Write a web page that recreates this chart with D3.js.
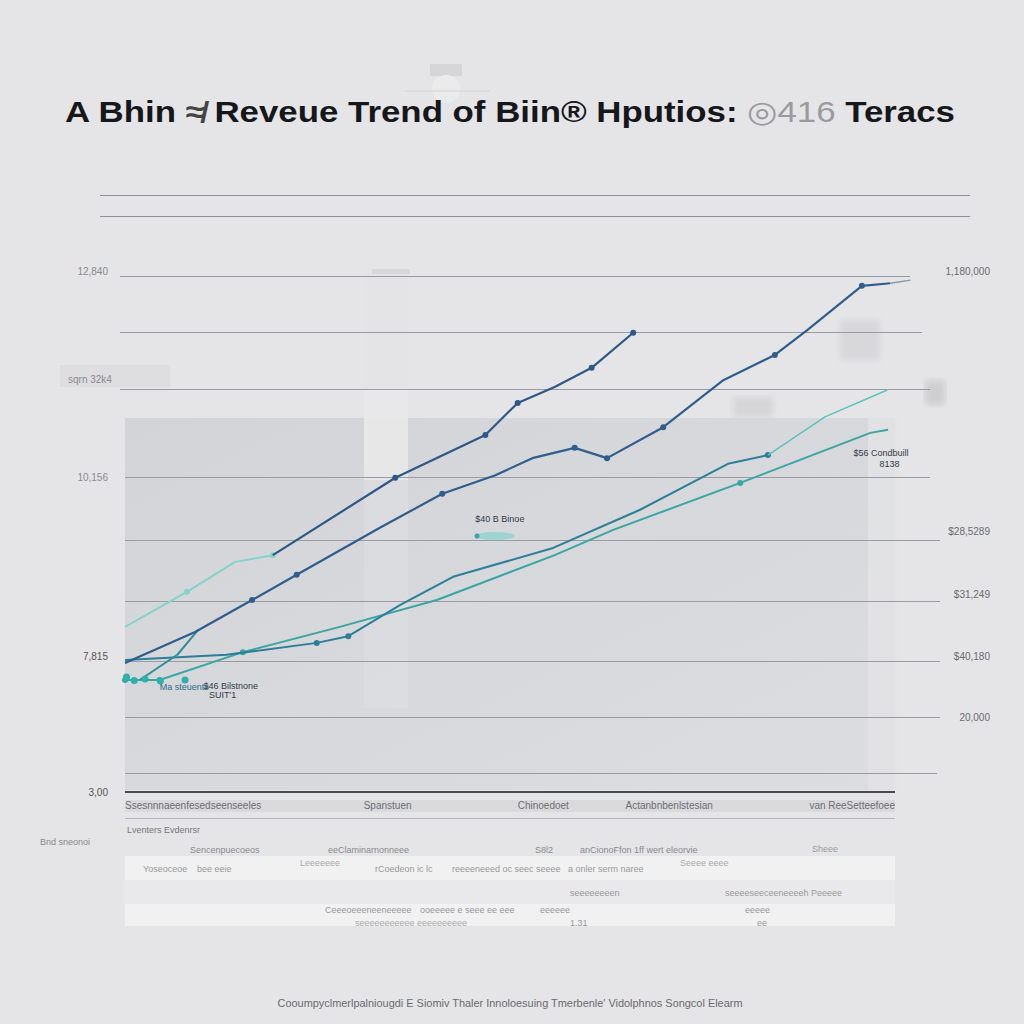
<!DOCTYPE html>
<html><head><meta charset="utf-8">
<script src="https://cdn.jsdelivr.net/npm/d3@7"></script>
<style>html,body{margin:0;padding:0;background:#e5e5e7;}svg{display:block;}</style>
</head><body>
<svg id="c" width="1024" height="1024"></svg>
<script>
// ---------- data ----------
const titleParts = ["A Bhin ", "≉ ", "Reveue Trend of Biin", "®", " Hputios: ", "◎416 ", "Teracs"];
// series values: period (t) and revenue index (v)
const s1LightT = [0, 8.05, 14.3, 19.2];
const s1LightV = [32.0, 38.8, 44.6, 45.9];
const s1T = [19.2, 35.1, 46.8, 51.0, 55.8, 60.6, 66.0];
const s1V = [45.9, 60.9, 69.2, 75.4, 78.5, 82.2, 89.0];
const s2T = [0, 9.1, 16.5, 22.3, 33.1, 41.2, 48.1, 52.9, 58.4, 62.6, 69.9, 77.7, 84.4, 88.6, 95.7, 99.4];
const s2V = [25.0, 31.0, 37.2, 42.1, 51.2, 57.8, 61.4, 64.7, 66.7, 64.7, 70.7, 79.8, 84.7, 89.5, 98.1, 98.6];
const pT = [0, 13.2, 24.9, 29.0, 35.7, 42.6, 55.6, 66.9, 78.3, 83.5];
const pV = [25.6, 26.6, 28.9, 30.2, 36.2, 41.7, 47.3, 54.7, 63.6, 65.3];
const pLightT = [83.5, 90.9, 99.0];
const pLightV = [65.3, 72.7, 77.9];
const qT = [0, 4.5, 15.3, 27.9, 40.5, 55.8, 63.4, 79.9, 96.8, 99.1];
const qV = [21.7, 21.7, 27.1, 32.0, 37.2, 45.9, 50.8, 59.9, 69.6, 70.2];
const s5T = [1.9, 6.8, 9.5];
const s5V = [21.7, 26.6, 31.4];
const s1Marks = [1, 2, 3, 5, 6];
const s1LightMarks = [1, 3];
const s2Marks = [2, 3, 5, 8, 9, 10, 12, 14];
const pMarks = [2, 3, 9];
const qMarks = [0, 1, 2, 7];
// gridlines (revenue index) and tick labels
const gridV = [115.7, 111.6, 100, 89.1, 78.1, 61.0, 48.8, 37.0, 25.4, 14.5, 3.7];
const leftTickV = [101, 80, 61, 26.4, 0];
const leftTickLabels = ["12,840", "sqrn 32k4", "10,156", "7,815", "3,00"];
const rightTickV = [101, 50.5, 38.4, 26.4, 14.5];
const rightTickLabels = ["1,180,000", "$28,5289", "$31,249", "$40,180", "20,000"];
const categories = ["Ssesnnnaeenfesedseenseeles", "Spanstuen", "Chinoedoet", "Actanbnbenlstesian", "van ReeSetteefoee"];
const categoryT = [0, 31, 51, 65, 100];
const notes = [
  {t: 10.2, v: 20.0, text: "$46 Bilstnone"},
  {t: 10.9, v: 18.2, text: "SUIT'1"},
  {t: 4.5, v: 19.8, text: "Ma steuents"},
  {t: 45.5, v: 52.3, text: "$40 B Binoe"},
  {t: 94.6, v: 65.1, text: "$56  Condbuill"},
  {t: 98.0, v: 63.0, text: "8138"}
];
const footer = "Cooumpyclmerlpalniougdi  E   Siomiv Thaler Innoloesuing   Tmerbenle' Vidolphnos Songcol Elearm";

// ---------- chart ----------
const svg = d3.select("#c");
const x = d3.scaleLinear().domain([0, 100]).range([125, 895]);
const y = d3.scaleLinear().domain([0, 100]).range([792, 276]);
const font = "'Liberation Sans', Arial, sans-serif";

const defs = svg.append("defs");
const g1 = defs.append("linearGradient").attr("id", "plotg").attr("x1", 0).attr("y1", 0).attr("x2", 1).attr("y2", 1);
g1.append("stop").attr("offset", 0).attr("stop-color", "#d2d4d8");
g1.append("stop").attr("offset", 1).attr("stop-color", "#dcdde0");
defs.append("filter").attr("id", "blur").append("feGaussianBlur").attr("stdDeviation", 3);

// background
svg.append("rect").attr("width", 1024).attr("height", 1024).attr("fill", "#e5e5e7");
// faint decoration above title
svg.append("rect").attr("x", 430).attr("y", 64).attr("width", 32).attr("height", 12).attr("fill", "#d6d6d8");
svg.append("circle").attr("cx", 446).attr("cy", 89).attr("r", 14).attr("fill", "#ebebec");
svg.append("line").attr("x1", 405).attr("x2", 490).attr("y1", 91).attr("y2", 91).attr("stroke", "#d2d2d4");

// plot panel
svg.append("rect").attr("x", x(0)).attr("y", 418).attr("width", x(100) - x(0)).attr("height", 372).attr("fill", "url(#plotg)");
svg.append("rect").attr("x", 868).attr("y", 418).attr("width", 32).attr("height", 372).attr("fill", "#e3e3e5").attr("opacity", 0.8);
// faint column
svg.append("rect").attr("x", 364).attr("y", 272).attr("width", 44).attr("height", 436).attr("fill", "#e2e2e4").attr("opacity", 0.45);
svg.append("rect").attr("x", 364).attr("y", 390).attr("width", 44).attr("height", 90).attr("fill", "#e9e9ea").attr("opacity", 0.85);
svg.append("rect").attr("x", 372).attr("y", 269).attr("width", 38).attr("height", 5).attr("fill", "#d8d8da");
// right faint blobs
svg.append("rect").attr("x", 840).attr("y", 320).attr("width", 40).attr("height", 40).attr("fill", "#d8d8db").attr("filter", "url(#blur)");
svg.append("rect").attr("x", 733).attr("y", 397).attr("width", 40).attr("height", 20).attr("fill", "#d6d6d8").attr("filter", "url(#blur)");
svg.append("rect").attr("x", 925).attr("y", 380).attr("width", 20).attr("height", 25).attr("fill", "#cfcfd2").attr("filter", "url(#blur)");
svg.append("rect").attr("x", 60).attr("y", 365).attr("width", 110).attr("height", 22).attr("fill", "#dedee0");

// gridlines
const gridExt = {115.7: [100, 970], 111.6: [100, 970], 100: [120, 910], 89.1: [120, 922], 78.1: [120, 930], 61.0: [125, 930], 48.8: [125, 940], 37.0: [125, 940], 25.4: [125, 940], 14.5: [125, 940], 3.7: [125, 937]};
svg.append("g").selectAll("line").data(gridV).join("line")
  .attr("x1", d => gridExt[d][0]).attr("x2", d => gridExt[d][1])
  .attr("y1", d => Math.round(y(d)) + 0.5).attr("y2", d => Math.round(y(d)) + 0.5)
  .attr("stroke", (d, i) => i < 2 ? "#8f9096" : "#9b9ca1").attr("stroke-width", 1.2);

// axis baseline
svg.append("rect").attr("x", x(0)).attr("y", 800).attr("width", x(100) - x(0)).attr("height", 12).attr("fill", "#d5d6d9").attr("opacity", 0.7);
svg.append("line").attr("x1", x(0)).attr("x2", x(100)).attr("y1", y(0)).attr("y2", y(0)).attr("stroke", "#4a4b50").attr("stroke-width", 2);
svg.append("line").attr("x1", x(0)).attr("x2", x(100)).attr("y1", 818.5).attr("y2", 818.5).attr("stroke", "#b8b9bc").attr("stroke-width", 1.2);

// tick labels
svg.append("g").selectAll("text").data(leftTickLabels).join("text")
  .attr("x", (d, i) => i === 1 ? 68 : 108).attr("y", (d, i) => y(leftTickV[i]) + 4)
  .attr("text-anchor", (d, i) => i === 1 ? "start" : "end")
  .attr("font-family", font).attr("font-size", 10)
  .attr("fill", (d, i) => i >= 3 ? "#555" : "#8a8a90").text(d => d);
svg.append("g").selectAll("text").data(rightTickLabels).join("text")
  .attr("x", 990).attr("y", (d, i) => y(rightTickV[i]) + 4).attr("text-anchor", "end")
  .attr("font-family", font).attr("font-size", 10).attr("fill", "#6a6b70").text(d => d);

// lines
const line = d3.line().x(d => x(d[0])).y(d => y(d[1]));
const zip = (a, b) => a.map((t, i) => [t, b[i]]);
const series = [
  {t: s1LightT, v: s1LightV, c: "#86d3cb", w: 2, m: s1LightMarks},
  {t: qT, v: qV, c: "#3aa6a4", w: 2, m: qMarks},
  {t: pT, v: pV, c: "#2c7f98", w: 2, m: pMarks},
  {t: pLightT, v: pLightV, c: "#5cc3bd", w: 1.5, m: []},
  {t: s5T, v: s5V, c: "#2f8e9a", w: 2, m: []},
  {t: s2T, v: s2V, c: "#2f5e8c", w: 2.2, m: s2Marks},
  {t: s1T, v: s1V, c: "#2d5887", w: 2.2, m: s1Marks}
];
series.forEach(s => {
  const pts = zip(s.t, s.v);
  svg.append("path").datum(pts).attr("d", line).attr("fill", "none")
    .attr("stroke", s.c).attr("stroke-width", s.w).attr("stroke-linejoin", "round");
  svg.append("g").selectAll("circle").data(s.m.map(i => pts[i])).join("circle")
    .attr("cx", d => x(d[0])).attr("cy", d => y(d[1])).attr("r", 3).attr("fill", s.c);
});
// faint extension at top-right
svg.append("path").datum([[99.4, 98.6], [102, 99.2]]).attr("d", line).attr("stroke", "#8896a8").attr("stroke-width", 1.5).attr("fill", "none");
// teal blob near $40 B label
svg.append("ellipse").attr("cx", 495).attr("cy", 536).attr("rx", 20).attr("ry", 4).attr("fill", "#8fd3cd").attr("opacity", 0.8);
svg.append("circle").attr("cx", 477).attr("cy", 536).attr("r", 2.5).attr("fill", "#3aa6a4");
// marker cluster at bottom-left
svg.append("g").selectAll("circle").data([[0.2, 22.3], [1.2, 21.6], [2.6, 21.9], [4.6, 21.5], [7.8, 21.7]]).join("circle")
  .attr("cx", d => x(d[0])).attr("cy", d => y(d[1])).attr("r", 3.5).attr("fill", "#2fb0ab");

// notes
svg.append("g").selectAll("text").data(notes).join("text")
  .attr("x", d => x(d.t)).attr("y", d => y(d.v)).attr("font-family", font).attr("font-size", 9)
  .attr("fill", (d, i) => i === 2 ? "#2b6a88" : "#333a48").text(d => d.text);

// category labels
svg.append("g").selectAll("text").data(categories).join("text")
  .attr("x", (d, i) => x(categoryT[i])).attr("y", 809)
  .attr("text-anchor", (d, i) => i === 4 ? "end" : "start")
  .attr("font-family", font).attr("font-size", 10).attr("fill", "#6c6d72").text(d => d);

// title
const title = svg.append("text").attr("x", 510).attr("y", 122).attr("text-anchor", "middle")
  .attr("font-family", font).attr("font-weight", "bold").attr("font-size", 30).attr("fill", "#16171b")
  .attr("textLength", 890).attr("lengthAdjust", "spacingAndGlyphs");
title.selectAll("tspan").data(titleParts).join("tspan")
  .attr("fill", (d, i) => i === 5 ? "#9a9a9e" : (i === 1 ? "#444" : "#16171b"))
  .attr("font-weight", (d, i) => i === 5 ? "normal" : "bold").text(d => d);

// lower table area
svg.append("rect").attr("x", 125).attr("y", 856).attr("width", 770).attr("height", 70).attr("fill", "#f1f1f2");
svg.append("rect").attr("x", 125).attr("y", 880).attr("width", 770).attr("height", 24).attr("fill", "#e9e9eb");
const tableText = [
  [127, 833, "Lventers Evdenrsr", "#777"],
  [40, 845, "Bnd sneonoi", "#888"],
  [190, 853, "Sencenpuecoeos", "#8a8a8e"],
  [328, 853, "eeClaminarnonneee", "#8a8a8e"],
  [535, 853, "S8l2", "#8a8a8e"],
  [580, 853, "anCionoFfon 1ff wert eleorvie", "#8a8a8e"],
  [812, 852, "Sheee", "#9a9a9e"],
  [143, 872, "Yoseoceoe", "#999"],
  [197, 872, "bee eeie", "#999"],
  [300, 866, "Leeeeeee", "#aaa"],
  [375, 872, "rCoedeon ic lc", "#999"],
  [452, 872, "reeeeneeed oc seec seeee", "#999"],
  [568, 872, "a onler serm naree", "#999"],
  [680, 866, "Seeee eeee", "#aaa"],
  [570, 896, "seeeeeeeen", "#999"],
  [725, 896, "seeeeseeceeneeeeh Peeeee", "#999"],
  [325, 913, "Ceeeoeeeneeneeeee", "#999"],
  [420, 913, "ooeeeee e seee ee eee", "#999"],
  [540, 913, "eeeeee", "#999"],
  [745, 913, "eeeee", "#999"],
  [355, 926, "seeeeeeeeeee eeeeeeeeee", "#aaa"],
  [570, 926, "1.31", "#999"],
  [757, 926, "ee", "#999"]
];
svg.append("g").selectAll("text").data(tableText).join("text")
  .attr("x", d => d[0]).attr("y", d => d[1]).attr("font-family", font).attr("font-size", 9)
  .attr("fill", d => d[3]).text(d => d[2]);

// footer
svg.append("text").attr("x", 510).attr("y", 1007).attr("text-anchor", "middle")
  .attr("font-family", font).attr("font-size", 11).attr("fill", "#6a6a6e")
  .attr("textLength", 465).attr("lengthAdjust", "spacingAndGlyphs").text(footer);
</script>
</body></html>
